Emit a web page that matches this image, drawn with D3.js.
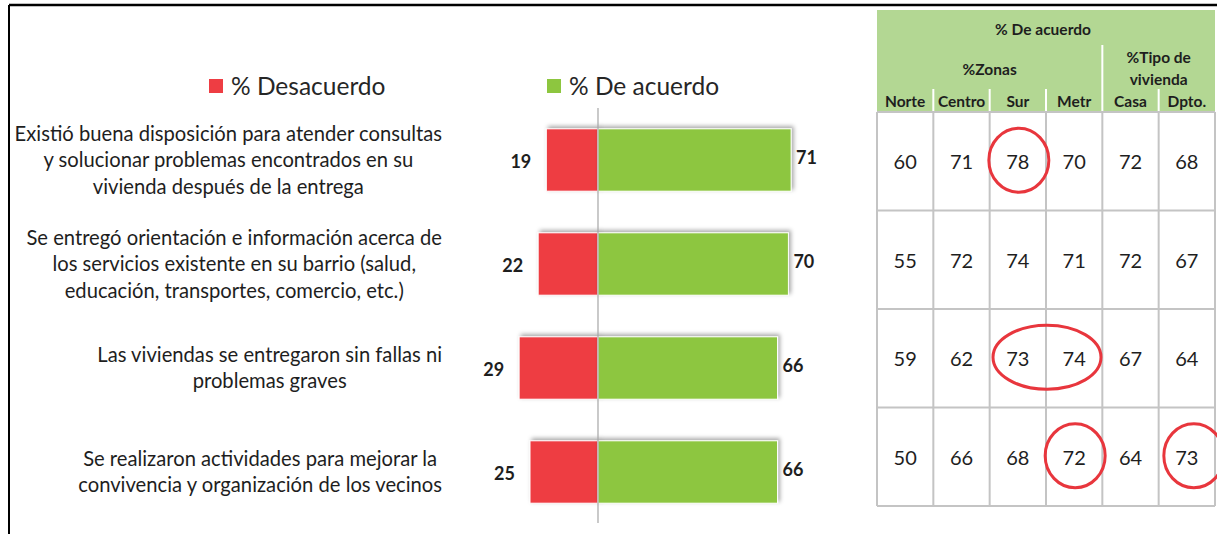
<!DOCTYPE html>
<html>
<head>
  <meta charset="utf-8">
  <script src="https://d3js.org/d3.v7.min.js"></script>
  <style>
    body { margin: 0; background: #fff; }
    svg { display: block; font-family: Lato, "Open Sans", sans-serif; }
    .cat { font-size: 20.2px; fill: #1e1e1e; }
    .val { font-size: 18px; font-weight: 700; fill: #1e1e1e; }
    .legend { font-size: 24.5px; fill: #262626; }
    .hdr { font-size: 15.5px; font-weight: 700; fill: #1e1e1e; }
    .cell { font-size: 20px; fill: #1e1e1e; }
  </style>
</head>
<body>
  <svg id="chart" width="1217" height="534"></svg>

  <script>
    // ---- data ----
    const categories = [
      ["Existió buena disposición para atender consultas", "y solucionar problemas encontrados en su", "vivienda después de la entrega"],
      ["Se entregó orientación e información acerca de", "los servicios existente en su barrio (salud,", "educación, transportes, comercio, etc.)"],
      ["Las viviendas se entregaron sin fallas ni", "problemas graves"],
      ["Se realizaron actividades para mejorar la", "convivencia y organización de los vecinos"]
    ];
    const desacuerdo = [19, 22, 29, 25];
    const deAcuerdo = [71, 70, 66, 66];

    const seriesNames = ["% Desacuerdo", "% De acuerdo"];
    const colors = ["#ee3d43", "#8dc63f"];

    // table (% De acuerdo by zone and type of housing)
    const columns = ["Norte", "Centro", "Sur", "Metr", "Casa", "Dpto."];
    const zoneCols = ["Norte", "Centro", "Sur", "Metr"];
    const tipoCols = ["Casa", "Dpto."];
    const tableValues = [
      [60, 71, 78, 70, 72, 68],
      [55, 72, 74, 71, 72, 67],
      [59, 62, 73, 74, 67, 64],
      [50, 66, 68, 72, 64, 73]
    ];
    // cells circled in red
    const highlights = [
      { row: 0, cols: ["Sur"] },
      { row: 2, cols: ["Sur", "Metr"] },
      { row: 3, cols: ["Metr"] },
      { row: 3, cols: ["Dpto."] }
    ];

    // ---- setup ----
    const svg = d3.select("#chart");
    const width = +svg.attr("width");
    const height = +svg.attr("height");

    // drop shadow for bars
    const defs = svg.append("defs");
    defs.append("filter").attr("id", "shadow")
      .attr("x", "-10%").attr("y", "-20%").attr("width", "120%").attr("height", "140%")
      .append("feDropShadow")
      .attr("dx", 2).attr("dy", -2).attr("stdDeviation", 2)
      .attr("flood-color", "#000").attr("flood-opacity", 0.35);

    // frame
    svg.append("line").attr("x1", 9).attr("x2", width).attr("y1", 5).attr("y2", 5)
      .attr("stroke", "#000").attr("stroke-width", 2.5);
    svg.append("line").attr("x1", 9).attr("x2", 9).attr("y1", 5).attr("y2", height)
      .attr("stroke", "#000").attr("stroke-width", 2);

    // scales
    const rows = d3.range(categories.length);
    const yScale = d3.scaleBand().domain(rows).range([108, 524]).padding(0);
    const xScale = d3.scaleLinear().domain([-30, 75]).range([598 - 30 * 2.72, 598 + 75 * 2.72]);
    const barH = yScale.bandwidth() * 0.6;

    // legend
    const legend = svg.append("g");
    const legendX = [209, 547];
    seriesNames.forEach((name, i) => {
      legend.append("rect").attr("x", legendX[i]).attr("y", 79).attr("width", 14).attr("height", 14)
        .attr("fill", colors[i]);
      legend.append("text").attr("class", "legend")
        .attr("x", legendX[i] + 22).attr("y", 86).attr("dy", "0.35em").text(name);
    });

    // category labels: wrapped lines centered, block right-aligned at x=442
    const catG = svg.append("g");
    categories.forEach((lines, i) => {
      const g = catG.append("g");
      const lh = 26.5;
      const cy = yScale(i) + yScale.bandwidth() / 2;
      const texts = lines.map((ln, j) => g.append("text").attr("class", "cat")
        .attr("y", cy + (j - (lines.length - 1) / 2) * lh).attr("dy", "0.35em")
        .attr("text-anchor", "middle").text(ln));
      const maxW = d3.max(texts, t => t.node().getComputedTextLength());
      texts.forEach(t => t.attr("x", 442 - maxW / 2));
    });

    // bars
    const bars = svg.append("g");
    bars.selectAll("rect.neg").data(desacuerdo).join("rect")
      .attr("class", "neg")
      .attr("x", d => xScale(-d)).attr("width", d => xScale(0) - xScale(-d))
      .attr("y", (d, i) => yScale(i) + (yScale.bandwidth() - barH) / 2).attr("height", barH)
      .attr("fill", colors[0]).attr("stroke", "#fff").attr("stroke-width", 1)
      .attr("filter", "url(#shadow)");
    bars.selectAll("rect.pos").data(deAcuerdo).join("rect")
      .attr("class", "pos")
      .attr("x", xScale(0)).attr("width", d => xScale(d) - xScale(0))
      .attr("y", (d, i) => yScale(i) + (yScale.bandwidth() - barH) / 2).attr("height", barH)
      .attr("fill", colors[1]).attr("stroke", "#fff").attr("stroke-width", 1)
      .attr("filter", "url(#shadow)");

    // zero axis
    svg.append("line").attr("x1", xScale(0)).attr("x2", xScale(0))
      .attr("y1", yScale.range()[0]).attr("y2", yScale.range()[1] - 1)
      .attr("stroke", "#a6a6a6").attr("stroke-width", 1.2);

    // value labels
    bars.selectAll("text.negv").data(desacuerdo).join("text")
      .attr("class", "val negv").attr("text-anchor", "end")
      .attr("x", d => xScale(-d) - 15)
      .attr("y", (d, i) => yScale(i) + yScale.bandwidth() / 2 + 2).attr("dy", "0.35em")
      .text(d => d);
    bars.selectAll("text.posv").data(deAcuerdo).join("text")
      .attr("class", "val posv")
      .attr("x", d => xScale(d) + 5)
      .attr("y", (d, i) => yScale(i) + yScale.bandwidth() / 2 - 2).attr("dy", "0.35em")
      .text(d => d);

    // ---- table ----
    const tX = d3.scaleBand().domain(columns).range([877, 1215]);
    const tY = d3.scaleBand().domain(rows).range([112, 506]);
    const table = svg.append("g");
    const tLeft = tX.range()[0], tRight = tX.range()[1];

    // header
    table.append("rect").attr("x", tLeft).attr("y", 10).attr("width", tRight - tLeft).attr("height", 102)
      .attr("fill", "#b3d793");
    table.append("text").attr("class", "hdr").attr("text-anchor", "middle")
      .attr("x", (tLeft + tRight) / 2 - 3).attr("y", 30).attr("dy", "0.35em").text("% De acuerdo");
    const zoneMid = (tX(zoneCols[0]) + tX(zoneCols[zoneCols.length - 1]) + tX.bandwidth()) / 2;
    const tipoMid = (tX(tipoCols[0]) + tX(tipoCols[tipoCols.length - 1]) + tX.bandwidth()) / 2;
    table.append("text").attr("class", "hdr").attr("text-anchor", "middle")
      .attr("x", zoneMid).attr("y", 70).attr("dy", "0.35em").text("%Zonas");
    table.append("text").attr("class", "hdr").attr("text-anchor", "middle")
      .attr("x", tipoMid).attr("y", 58).attr("dy", "0.35em").text("%Tipo de");
    table.append("text").attr("class", "hdr").attr("text-anchor", "middle")
      .attr("x", tipoMid).attr("y", 80).attr("dy", "0.35em").text("vivienda");
    table.selectAll("text.colh").data(columns).join("text")
      .attr("class", "hdr colh").attr("text-anchor", "middle")
      .attr("x", d => tX(d) + tX.bandwidth() / 2).attr("y", 102).attr("dy", "0.35em").text(d => d);
    // white separators in header
    table.selectAll("line.hsep").data(columns.slice(1)).join("line")
      .attr("class", "hsep")
      .attr("x1", d => tX(d)).attr("x2", d => tX(d))
      .attr("y1", d => d === tipoCols[0] ? 45 : 89).attr("y2", 112)
      .attr("stroke", "#fff").attr("stroke-width", 2);

    // body grid
    const gridColor = "#c4c4c4";
    table.selectAll("line.hgrid").data(d3.range(rows.length + 1)).join("line")
      .attr("class", "hgrid")
      .attr("x1", tLeft).attr("x2", tRight)
      .attr("y1", i => tY.range()[0] + i * tY.step()).attr("y2", i => tY.range()[0] + i * tY.step())
      .attr("stroke", gridColor).attr("stroke-width", 2);
    table.selectAll("line.vgrid").data(d3.range(columns.length + 1)).join("line")
      .attr("class", "vgrid")
      .attr("x1", i => tLeft + i * tX.step()).attr("x2", i => tLeft + i * tX.step())
      .attr("y1", tY.range()[0]).attr("y2", tY.range()[1])
      .attr("stroke", gridColor).attr("stroke-width", 2);

    // cell values
    tableValues.forEach((vals, r) => {
      table.selectAll(null).data(vals).join("text")
        .attr("class", "cell").attr("text-anchor", "middle")
        .attr("x", (d, c) => tX(columns[c]) + tX.bandwidth() / 2)
        .attr("y", tY(r) + tY.bandwidth() / 2 + 1).attr("dy", "0.35em")
        .text(d => d);
    });

    // red circles
    table.selectAll("ellipse.hl").data(highlights).join("ellipse")
      .attr("class", "hl")
      .attr("cx", d => {
        const x0 = tX(d.cols[0]), x1 = tX(d.cols[d.cols.length - 1]) + tX.bandwidth();
        return (x0 + x1) / 2 + (d.cols[0] === "Dpto." ? 7 : 1);
      })
      .attr("cy", d => tY(d.row) + tY.bandwidth() / 2 - 1)
      .attr("rx", d => d.cols.length > 1 ? 54 : 30)
      .attr("ry", 32)
      .attr("fill", "none").attr("stroke", "#e8363d").attr("stroke-width", 3);
  </script>
</body>
</html>
